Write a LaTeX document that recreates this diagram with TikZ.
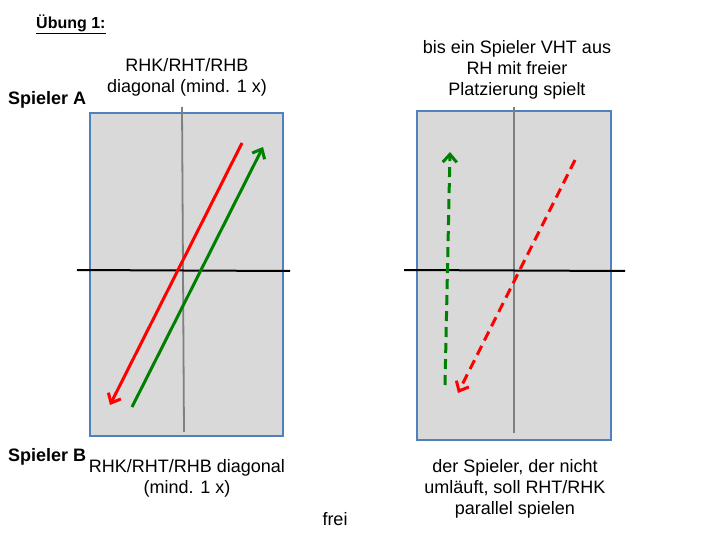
\documentclass[tikz,border=0pt]{standalone}
\usepackage{fontspec}
\setmainfont{Liberation Sans}
\usetikzlibrary{arrows.meta}

\definecolor{tableblue}{RGB}{79,129,189}
\definecolor{netgray}{RGB}{128,128,128}
\definecolor{shotgreen}{RGB}{0,128,0}

\begin{document}
\begin{tikzpicture}[x=1pt, y=-1pt, >={Straight Barb[length=8pt, width=14pt]},
  table/.style={draw=tableblue, fill=black!15, line width=1.5pt},
  net/.style={line width=2pt},
  midline/.style={netgray, line width=1.8pt},
  shot/.style={->, line width=3pt},
  txt/.style={font=\fontsize{18}{21}\selectfont, align=center, inner sep=0pt},
  player/.style={font=\fontsize{18}{21}\selectfont\bfseries, inner sep=0pt}]

\useasboundingbox (0,0) rectangle (720,540);

% Title and players
\node[player, anchor=west, font=\fontsize{16}{19}\selectfont\bfseries] (title) at (36,24) {\underline{Übung 1:}};
\node[player, anchor=west] (spielerA) at (8,100) {Spieler A};
\node[player, anchor=west] (spielerB) at (8,457) {Spieler B};

% Tables
\draw[table] (90,113) rectangle (283,436);
\draw[table] (417,111) rectangle (611,440);

% Center lines
\draw[midline] (182,107) -- (184,432);
\draw[midline] (514,107) -- (514,433);

% Nets
\draw[net] (77,270) -- (290,271);
\draw[net] (404,270) -- (625,271);

% Left table: diagonal rallies
\coordinate (redA) at (242,143);
\coordinate (redB) at (110,405);
\coordinate (greenB) at (132,407);
\coordinate (greenA) at (263,147);
\draw[shot, red] (redA) -- (redB);
\draw[shot, shotgreen] (greenB) -- (greenA);

% Right table: free placement
\coordinate (vhtB) at (445,385);
\coordinate (vhtA) at (450,152);
\coordinate (parA) at (575,160);
\coordinate (parB) at (458,393);
\draw[shot, shotgreen, dash pattern=on 10pt off 6pt] (vhtB) -- (vhtA);
\draw[shot, red, dash pattern=on 10pt off 6pt] (parA) -- (parB);

% Labels
\node[txt] (topleft) at (187,77) {RHK/RHT/RHB\\diagonal (mind. 1 x)};
\node[txt] (bottomleft) at (187,478) {RHK/RHT/RHB diagonal\\(mind. 1 x)};
\node[txt] (topright) at (517,70) {bis ein Spieler VHT aus\\RH mit freier\\Platzierung spielt};
\node[txt] (bottomright) at (515,489) {der Spieler, der nicht\\umläuft, soll RHT/RHK\\parallel spielen};
\node[txt] (frei) at (335,519) {frei};

\end{tikzpicture}
\end{document}
